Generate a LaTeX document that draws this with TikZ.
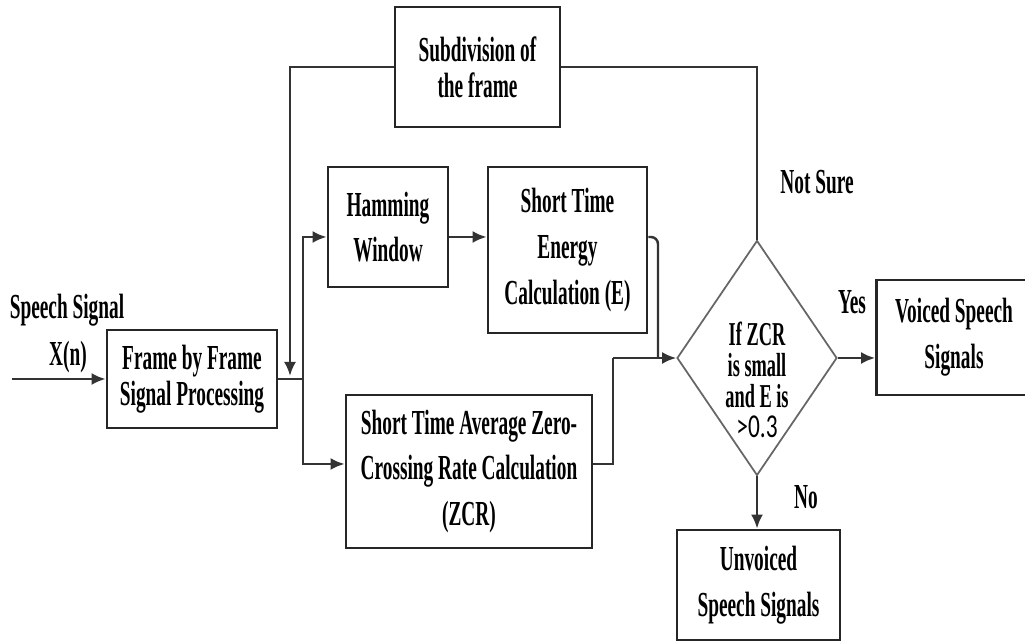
\documentclass[tikz,border=0pt]{standalone}
\usepackage{fontspec}
\usepackage{tikz}
\usetikzlibrary{arrows.meta,shapes.geometric}
\newfontfamily\condfont{Liberation Serif}[FakeStretch=0.55]
\newfontfamily\numfont{Carlito}[FakeStretch=0.7]
\newcommand\lbl{\condfont\bfseries\fontsize{20}{26}\selectfont}
\newcommand\lbltight{\condfont\bfseries\fontsize{20}{20.5}\selectfont}
\tikzset{
  box/.style     ={rectangle,draw=black!85,line width=1.6pt,align=center,inner sep=2pt,font=\lbl},
  tightbox/.style={box,font=\lbltight},
  decision/.style={diamond,draw=black!60,line width=1pt,aspect=0.68,minimum width=3.2cm,minimum height=4.7cm,inner sep=0pt},
  dtext/.style   ={align=center,inner sep=0pt,font=\condfont\bfseries\fontsize{19}{17.6}\selectfont},
  tag/.style     ={inner sep=0pt,font=\lbl},
  wire/.style    ={black!80,line width=1.4pt},
  arr/.style     ={wire,-{Latex[length=0.28cm,width=0.24cm]}},
}
\begin{document}
\begin{tikzpicture}[x=0.02cm,y=-0.02cm]
  \useasboundingbox (0,0) rectangle (1025,644);
  % blocks
  \node[tightbox,minimum width=3.4cm,minimum height=1.96cm](frame) at (192,379){Frame by Frame\\Signal Processing};
  \node[tightbox,minimum width=3.3cm,minimum height=2.4cm](sub) at (477.5,67){Subdivision of\\the frame};
  \node[box,minimum width=2.4cm,minimum height=2.4cm](ham) at (388,227){Hamming\\Window};
  \node[box,minimum width=3.18cm,minimum height=3.32cm](energy) at (567.5,250){Short Time\\Energy\\Calculation (E)};
  \node[box,minimum width=4.92cm,minimum height=3.06cm](zcr) at (469,471.5){Short Time Average Zero-\\Crossing Rate Calculation\\(ZCR)};
  \node[decision](dec) at (757,358){};
  \node[dtext](dectxt) at (757,380){If ZCR\\is small\\and E is\\{\numfont\mdseries >0.3}};
  \node[box,minimum width=3.1cm,minimum height=2.3cm](voiced) at (954,337.5){Voiced Speech\\Signals};
  \node[box,minimum width=3.26cm,minimum height=2.2cm](unvoiced) at (758.5,585){Unvoiced\\Speech Signals};
  % labels
  \node[tag](sig) at (67,310){Speech Signal};
  \node[tag](xn) at (68,357){X(n)};
  \node[tag](notsure) at (817,182){Not Sure};
  \node[tag](yes) at (852,302){Yes};
  \node[tag](no) at (806,497){No};
  % junctions
  \coordinate (in) at (12,379);
  \coordinate (split) at (303,379);
  \coordinate (loopin) at (290,376);
  \coordinate (zup) at (613,358);
  \coordinate (join) at (658,358);
  % connectors
  \draw[arr](in)--(frame.west);
  \draw[wire](frame.east)--(split);
  \draw[arr](split)|-([yshift=-0.2cm]ham.west);
  \draw[arr](split)|-([yshift=0.15cm]zcr.west);
  \draw[arr]([yshift=-0.2cm]ham.east)--([yshift=-0.2cm]ham.east -| energy.west);
  \draw[wire,rounded corners=4pt]([yshift=0.26cm]energy.east)-|(join);
  \draw[wire]([yshift=0.15cm]zcr.east)-|(zup);
  \draw[arr](zup)--(dec.west);
  \draw[arr](dec.east)--(dec.east -| voiced.west);
  \draw[arr](dec.south)--(dec.south |- unvoiced.north);
  \draw[wire](dec.north)|-(sub.east);
  \draw[arr](sub.west)-|(loopin);
\end{tikzpicture}
\end{document}
